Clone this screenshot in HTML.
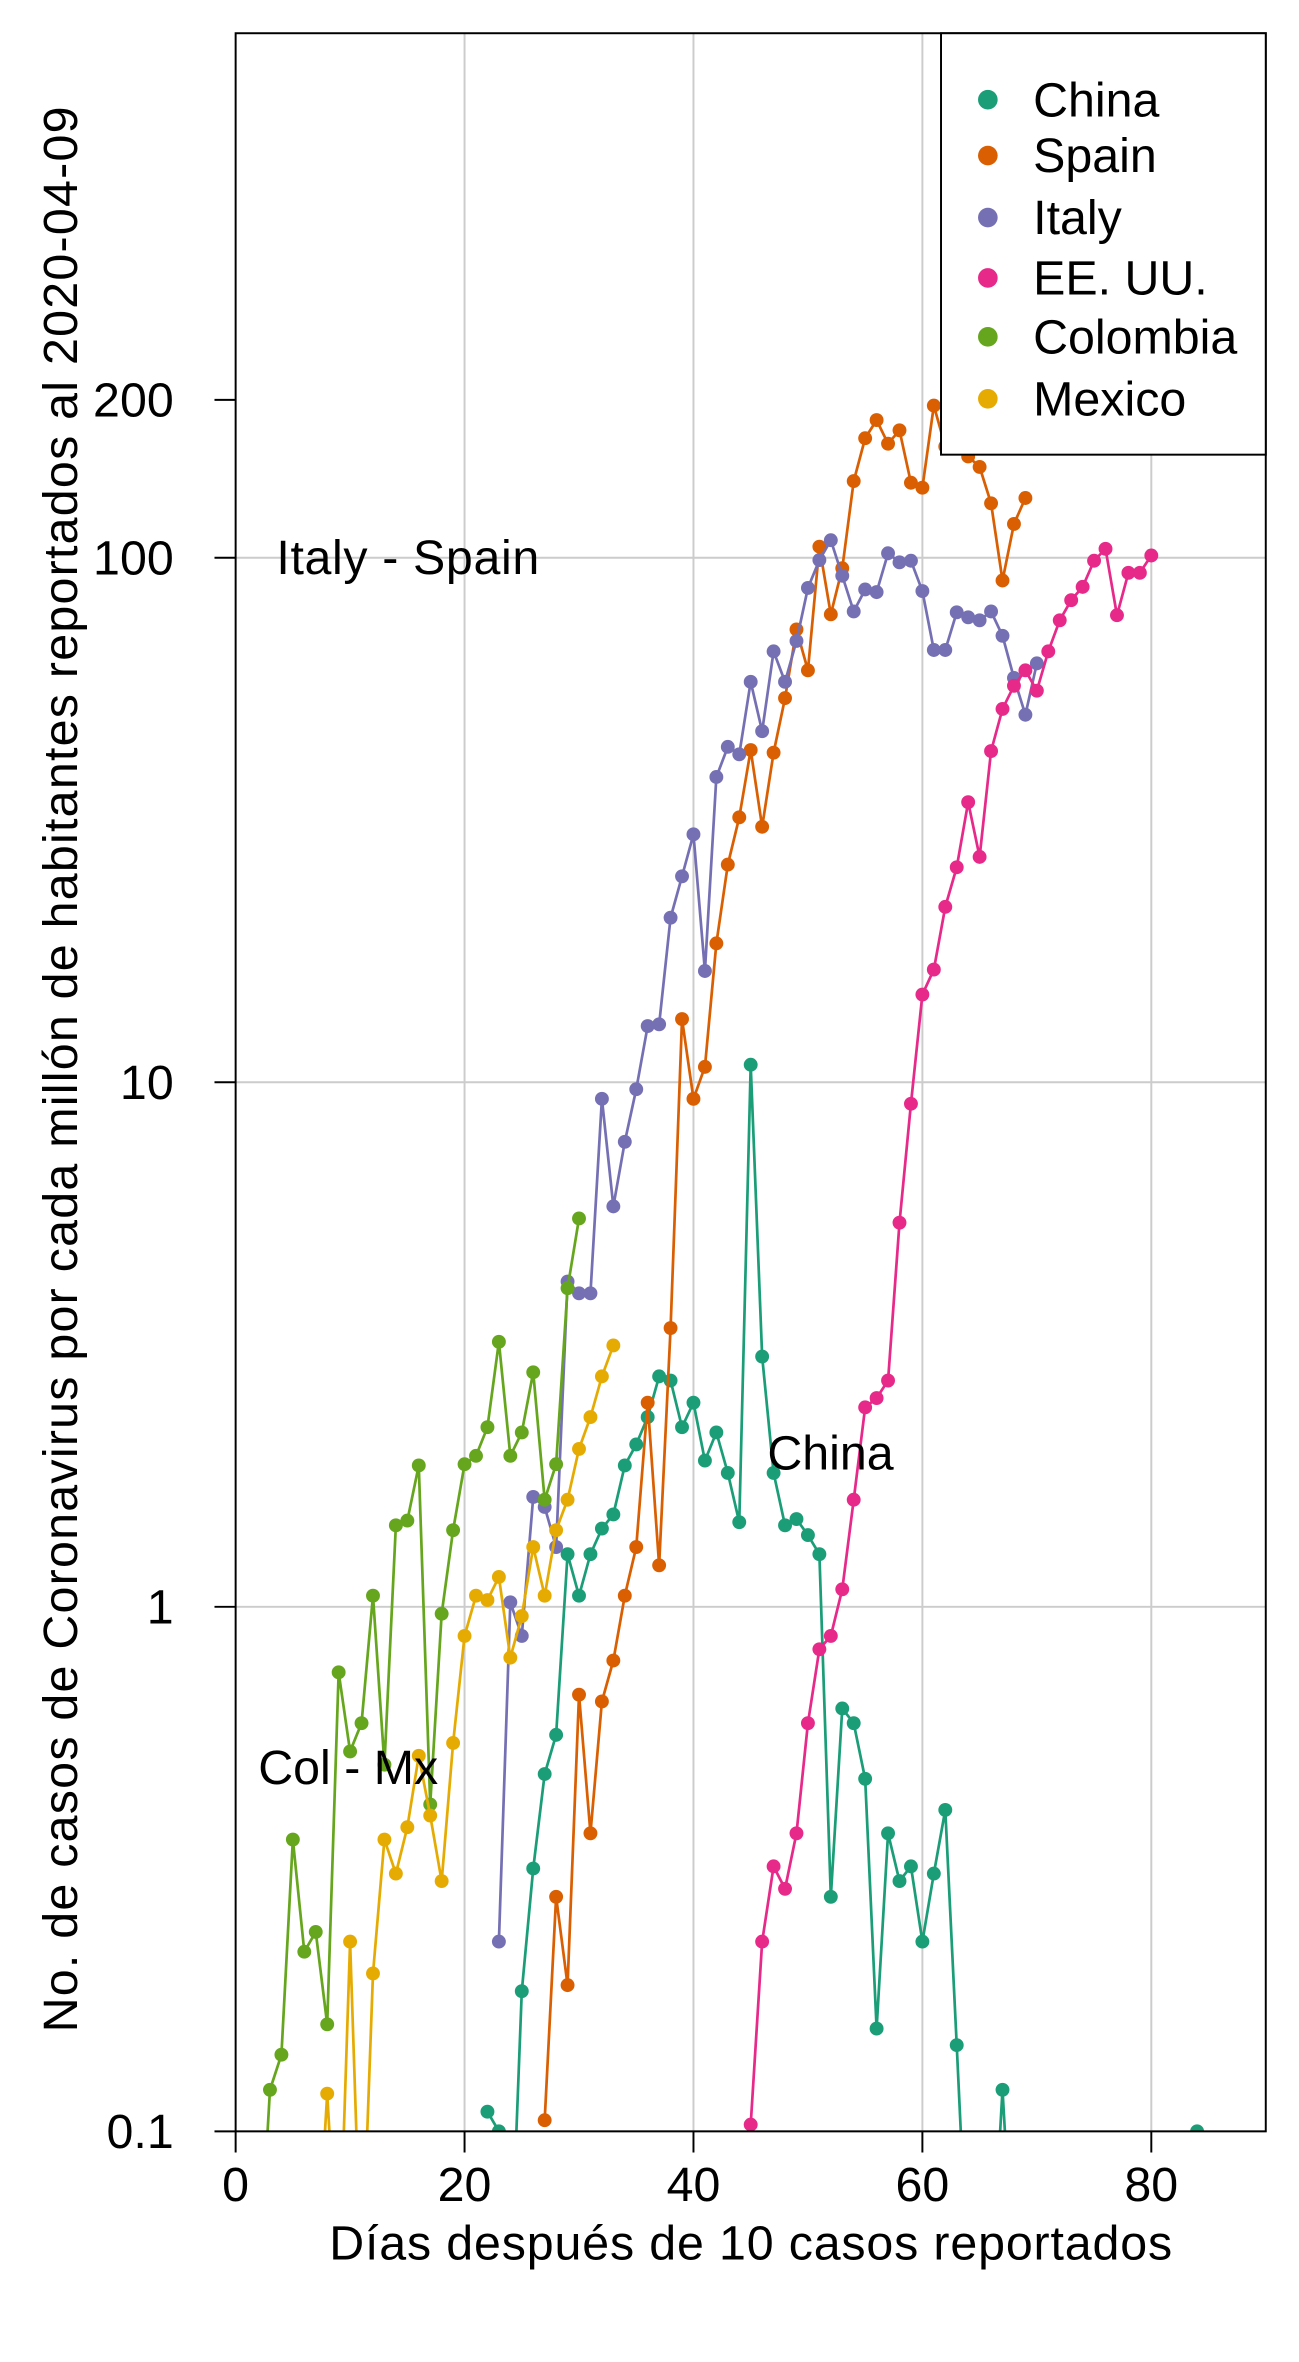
<!DOCTYPE html>
<html><head><meta charset="utf-8"><style>
html,body{margin:0;padding:0;background:#fff}
svg{display:block}
text{font-family:"Liberation Sans",Arial,sans-serif;fill:#000}
</style></head><body>
<svg id="chart" width="1299" height="2362" viewBox="0 0 860 1563.7" preserveAspectRatio="none" xmlns="http://www.w3.org/2000/svg">
<defs><clipPath id="pc"><rect x="156" y="22" width="682" height="1389"/></clipPath></defs>
<g id="grid"></g>
<g id="series" clip-path="url(#pc)"></g>
<rect x="156" y="22" width="682" height="1389" fill="none" stroke="#000" stroke-width="1.3"/>
<g id="axes"></g>
<text x="183" y="380" font-size="32" textLength="174">Italy - Spain</text>
<text x="508" y="973" font-size="32">China</text>
<text x="171" y="1181" font-size="32">Col - Mx</text>
<text x="497" y="1496" font-size="32" text-anchor="middle" textLength="558">Días después de 10 casos reportados</text>
<text transform="translate(51,708) rotate(-90)" font-size="32" text-anchor="middle" textLength="1275">No. de casos de Coronavirus por cada millón de habitantes reportados al 2020-04-09</text>
<g id="legend"></g>
</svg>
<script>
const xTicks=[0,20,40,60,80];
const yTicks=[0.1,1,10,100,200];
const yTickLabels=["0.1","1","10","100","200"];
const yGrid=[0.1,1,10,100];
const seriesNames=["China","Spain","Italy","EE. UU.","Colombia","Mexico"];
const seriesColors=["#1B9E77","#D95F02","#7570B3","#E7298A","#66A61E","#E6AB02"];
const seriesStart=[22,27,23,45,2,7];
const chinaVals=[0.109,0.1,0.05,0.185,0.317,0.48,0.57,1.26,1.05,1.26,1.41,1.5,1.86,2.04,2.3,2.75,2.7,2.2,2.45,1.9,2.15,1.8,1.45,10.8,3.0,1.8,1.43,1.47,1.37,1.26,0.28,0.64,0.6,0.47,0.157,0.37,0.30,0.32,0.23,0.31,0.41,0.146,0.05,null,0.05,0.12,0.05,null,null,null,null,null,null,null,null,null,null,null,null,null,null,null,0.1];
const spainVals=[0.105,0.28,0.19,0.68,0.37,0.66,0.79,1.05,1.3,2.45,1.2,3.4,13.2,9.3,10.7,18.4,26,32,43,30.7,42.5,54,73,61,105,78,95.5,140,169,183,165,175,139,136,195,163,170,156,149,127,90.5,116,130];
const italyVals=[0.23,1.02,0.88,1.62,1.55,1.3,4.17,3.96,3.96,9.3,5.8,7.7,9.7,12.8,12.9,20.6,24.7,29.7,16.3,38.2,43.6,42.2,58,46.7,66.3,58,69.4,87.6,99,108,92.4,79,87,86,102,98,98.7,86.4,66.7,66.7,78.7,77,76,79,71,59,50.2,62.9];
const usVals=[0.103,0.23,0.32,0.29,0.37,0.6,0.83,0.88,1.08,1.6,2.4,2.5,2.7,5.4,9.1,14.7,16.4,21.6,25.7,34.2,26.9,42.8,51.5,57,61,55.8,66.3,76,83,88,98.7,104,77.7,93.6,93.6,101];
const colombiaVals=[0.05,0.12,0.14,0.36,0.22,0.24,0.16,0.75,0.53,0.6,1.05,0.5,1.43,1.46,1.86,0.42,0.97,1.4,1.87,1.94,2.2,3.2,1.94,2.15,2.8,1.6,1.87,4.05,5.5];
const mexicoVals=[0.05,0.118,0.05,0.23,0.05,0.2,0.36,0.31,0.38,0.52,0.4,0.3,0.55,0.88,1.05,1.03,1.14,0.8,0.96,1.3,1.05,1.4,1.6,2.0,2.3,2.75,3.15];
const allVals=[chinaVals,spainVals,italyVals,usVals,colombiaVals,mexicoVals];

const NS="http://www.w3.org/2000/svg";
const X0=156,X1=838,Y0=1411,Y1=22,XMIN=0,XMAX=90,LMIN=-1,LMAX=3;
function sx(d){return X0+(d-XMIN)/(XMAX-XMIN)*(X1-X0);}
function sy(v){return Y0-(Math.log10(v)-LMIN)/(LMAX-LMIN)*(Y0-Y1);}
function mk(tag,attrs,parent){const e=document.createElementNS(NS,tag);for(const k in attrs)e.setAttribute(k,attrs[k]);parent.appendChild(e);return e;}
const grid=document.getElementById('grid'),axes=document.getElementById('axes'),ser=document.getElementById('series'),leg=document.getElementById('legend');
xTicks.forEach(t=>{
  if(t>XMIN){const g=mk('line',{x1:sx(t),x2:sx(t),y1:Y1,y2:Y0,stroke:'#cccccc','stroke-width':1.3},grid);
  
  }
  const tk=mk('line',{x1:sx(t),x2:sx(t),y1:Y0,y2:Y0+14,stroke:'#000','stroke-width':1.3},axes);
  
  
  const lb=mk('text',{x:sx(t),y:Y0+46,'font-size':32,'text-anchor':'middle'},axes);lb.textContent=t;
  
  
});
yGrid.forEach(v=>{const g=mk('line',{x1:X0,x2:X1,y1:sy(v),y2:sy(v),stroke:'#cccccc','stroke-width':1.3},grid);
  
  });
yTicks.forEach((v,i)=>{
  const tk=mk('line',{x1:X0-14,x2:X0,y1:sy(v),y2:sy(v),stroke:'#000','stroke-width':1.3},axes);
  
  
  const lb=mk('text',{x:X0-41,y:sy(v)+11,'font-size':32,'text-anchor':'end'},axes);lb.textContent=yTickLabels[i];
  
  
});
allVals.forEach((vals,si)=>{
  const g=mk('g',{},ser);
  
  
  let seg=[];const segs=[];
  vals.forEach((v,i)=>{if(v==null){if(seg.length)segs.push(seg);seg=[];}else seg.push([sx(seriesStart[si]+i),sy(v)]);});
  if(seg.length)segs.push(seg);
  segs.forEach(s=>{if(s.length>1){const p=mk('polyline',{points:s.map(q=>q.join(',')).join(' '),fill:'none',stroke:seriesColors[si],'stroke-width':1.8},g);
    
    }});
  vals.forEach((v,i)=>{if(v==null)return;const c=mk('circle',{cx:sx(seriesStart[si]+i),cy:sy(v),r:4.6,fill:seriesColors[si]},g);
    
    });
});
const lb=mk('rect',{x:623,y:22,width:215,height:279,fill:'#fff',stroke:'#000','stroke-width':1.3},leg);


const legY=[66,103,144,184,223,264];
seriesNames.forEach((n,i)=>{
  const c=mk('circle',{cx:654,cy:legY[i],r:6.5,fill:seriesColors[i]},leg);
  
  
  const t=mk('text',{x:684,y:legY[i]+11,'font-size':32},leg);t.textContent=n;
  
  
});
</script>
</body></html>
